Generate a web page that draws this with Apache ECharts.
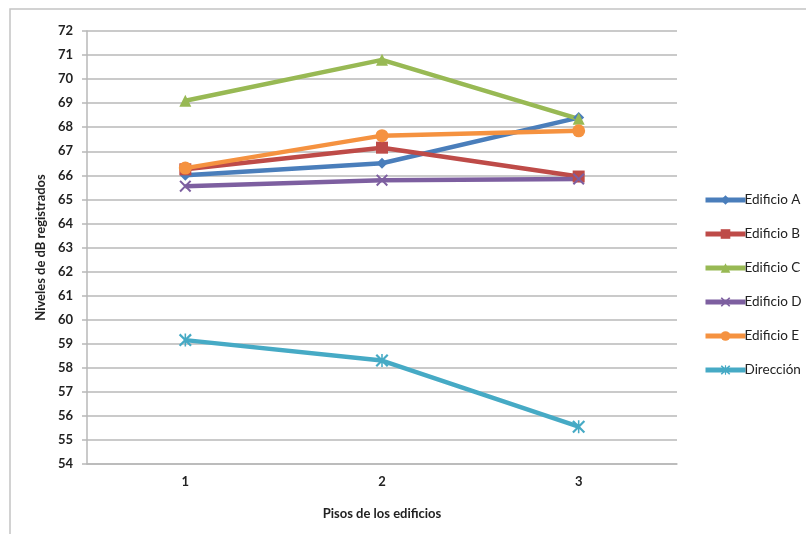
<!DOCTYPE html>
<html>
<head>
<meta charset="utf-8">
<script src="https://cdn.jsdelivr.net/npm/echarts@6/dist/echarts.min.js"></script>
<style>html,body{margin:0;padding:0;background:#fff}#c{width:806px;height:534px}</style>
</head>
<body>
<div id="c"></div>
<script>
const categories = ['1', '2', '3'];
const seriesNames = ['Edificio A', 'Edificio B', 'Edificio C', 'Edificio D', 'Edificio E', 'Dirección'];
const edificioA = [66.0, 66.5, 68.4];
const edificioB = [66.25, 67.15, 65.95];
const edificioC = [69.1, 70.8, 68.35];
const edificioD = [65.55, 65.8, 65.85];
const edificioE = [66.3, 67.65, 67.85];
const direccion = [59.15, 58.3, 55.55];
const yMin = 54, yMax = 72, yStep = 1;

const colors = ['#4A7EBB', '#BE4B48', '#98B954', '#7D5FA0', '#F59240', '#46AAC5'];
const xPath = 'path://M0,1.2L1.2,0L5,3.8L8.8,0L10,1.2L6.2,5L10,8.8L8.8,10L5,6.2L1.2,10L0,8.8L3.8,5Z';
const starPath = 'path://M0,1.2L1.2,0L5,3.8L8.8,0L10,1.2L6.2,5L10,8.8L8.8,10L5,6.2L1.2,10L0,8.8L3.8,5ZM4.4,0L5.6,0L5.6,10L4.4,10Z';
const symbols = ['diamond', 'rect', 'triangle', xPath, 'circle', starPath];
const symbolSizes = [11, 12, 12, 12, 13, 13];
const allData = [edificioA, edificioB, edificioC, edificioD, edificioE, direccion];

const chart = echarts.init(document.getElementById('c'));
const font = 'Lato, "Open Sans", sans-serif';
chart.setOption({
  animation: false,
  backgroundColor: '#fff',
  graphic: [{
    type: 'rect', shape: { x: 10, y: 9, width: 820, height: 560 },
    style: { fill: 'none', stroke: '#c4c4c4', lineWidth: 1.5 }, silent: true, z: -1
  }],
  grid: { left: 87, top: 31, right: 129, bottom: 70, containLabel: false },
  legend: {
    orient: 'vertical', left: 698, top: 188,
    itemWidth: 40, itemHeight: 12, itemGap: 20,
    lineStyle: { width: 5 },
    textStyle: { fontFamily: font, fontSize: 13.5, color: '#222', padding: [0, 0, 0, -6] },
    data: seriesNames
  },
  xAxis: {
    type: 'category', data: categories, boundaryGap: true,
    name: 'Pisos de los edificios', nameLocation: 'middle', nameGap: 43,
    nameTextStyle: { fontFamily: font, fontWeight: 'bold', fontSize: 13, color: '#222' },
    axisLine: { lineStyle: { color: '#b8b8b8', width: 1.5 } },
    axisTick: { show: false },
    axisLabel: { fontFamily: font, fontWeight: 'bold', fontSize: 13, color: '#222', margin: 11 }
  },
  yAxis: {
    type: 'value', min: yMin, max: yMax, interval: yStep,
    name: 'Niveles de dB registrados', nameLocation: 'middle', nameGap: 40,
    nameTextStyle: { fontFamily: font, fontWeight: 'bold', fontSize: 13, color: '#222' },
    axisLine: { show: true, lineStyle: { color: '#b8b8b8', width: 1.5 } },
    axisTick: { show: true, length: 5, lineStyle: { color: '#b8b8b8', width: 1.5 } },
    axisLabel: { fontFamily: font, fontWeight: 'bold', fontSize: 13, color: '#222', margin: 14 },
    splitLine: { lineStyle: { color: '#b8b8b8', width: 1.5 } }
  },
  series: seriesNames.map((n, i) => ({
    name: n, type: 'line', data: allData[i],
    symbol: symbols[i], symbolSize: symbolSizes[i], showSymbol: true,
    lineStyle: { color: colors[i], width: 4.5 },
    itemStyle: { color: colors[i], borderColor: colors[i], borderWidth: 0 },
    z: 2 + (i === 4 ? 1 : 0)
  }))
});
</script>
</body>
</html>
